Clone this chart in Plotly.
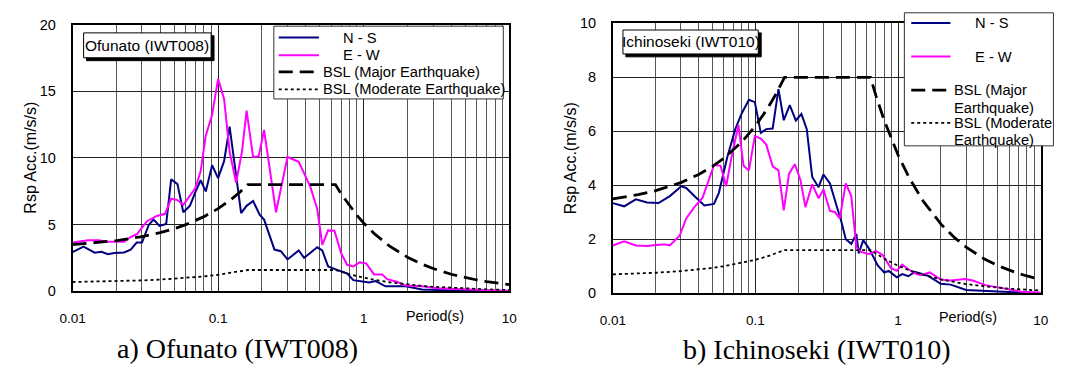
import math
import plotly.graph_objects as go

W, H = 1083, 374

# ---------------- data ----------------
# a) Ofunato (IWT008)
ofu_ns_T = [0.01, 0.0119, 0.0142, 0.0158, 0.0175, 0.0194, 0.0226, 0.0251, 0.0276, 0.030, 0.0334, 0.036,
            0.0396, 0.044, 0.0476, 0.0526, 0.0577, 0.064, 0.0697, 0.0759, 0.0823, 0.091, 0.10, 0.11,
            0.12, 0.133, 0.144, 0.157, 0.174, 0.193, 0.207, 0.244, 0.27, 0.30, 0.358, 0.39, 0.48, 0.52,
            0.57, 0.65, 0.77, 0.85, 0.97, 1.09, 1.21, 1.41, 1.94, 2.52, 4.2, 10.0]
ofu_ns_A = [2.94, 3.35, 2.9, 2.97, 2.78, 2.87, 2.92, 3.13, 3.66, 3.66, 4.98, 5.38,
            4.9, 5.05, 8.4, 8.04, 5.93, 6.41, 7.42, 8.33, 7.49, 9.45, 8.49, 9.76,
            12.34, 8.44, 5.86, 6.41, 6.77, 5.74, 5.38, 3.13, 3.01, 2.39, 3.06, 2.51, 3.3, 3.06,
            1.87, 1.63, 1.34, 0.84, 0.72, 0.67, 0.77, 0.38, 0.38, 0.14, 0.07, 0.0]

ofu_ew_T = [0.01, 0.0128, 0.015, 0.0175, 0.0226, 0.0251, 0.0278, 0.0325, 0.0379, 0.0432, 0.0476, 0.0526,
            0.0577, 0.0697, 0.0759, 0.0823, 0.091, 0.10, 0.11, 0.12, 0.133, 0.146, 0.157, 0.174, 0.19,
            0.207, 0.25, 0.30, 0.358, 0.43, 0.48, 0.52, 0.57, 0.63, 0.70, 0.77, 0.85, 0.94, 1.04, 1.18,
            1.34, 1.45, 1.69, 1.94, 2.52, 3.2, 5.4, 10.0]
ofu_ew_A = [3.66, 3.83, 3.83, 3.71, 3.71, 4.07, 4.31, 5.26, 5.65, 5.81, 6.94, 6.84,
            6.48, 7.73, 9.0, 11.67, 13.23, 15.93, 14.43, 10.48, 8.13, 10.48, 13.54, 10.07, 10.12,
            12.1, 5.93, 10.07, 9.71, 7.85, 6.17, 3.49, 4.57, 4.55, 2.87, 1.99, 1.87, 2.18, 2.1, 1.27,
            1.27, 0.91, 0.72, 0.43, 0.38, 0.24, 0.14, 0.05]

# b) Ichinoseki (IWT010)
ichi_ns_T = [0.01, 0.012, 0.0145, 0.0174, 0.0209, 0.0251, 0.0302, 0.0327, 0.0384, 0.0438, 0.0512, 0.0554,
             0.0633, 0.0722, 0.0802, 0.09, 0.099, 0.109, 0.119, 0.132, 0.145, 0.158, 0.174, 0.192,
             0.21, 0.229, 0.25, 0.277, 0.30, 0.333, 0.37, 0.40, 0.43, 0.47, 0.51, 0.53, 0.57, 0.63,
             0.72, 0.80, 0.86, 0.98, 1.07, 1.18, 1.31, 1.62, 1.99, 2.34, 3.0, 4.1, 6.5, 10.0]
ichi_ns_A = [3.34, 3.22, 3.48, 3.36, 3.34, 3.6, 3.96, 3.9, 3.54, 3.25, 3.31, 3.72,
             5.02, 6.08, 6.67, 7.17, 7.08, 5.94, 6.08, 6.1, 7.56, 6.41, 6.97, 6.4,
             6.64, 6.08, 4.31, 3.93, 4.4, 4.07, 3.25, 2.66, 2.0, 1.83, 2.2, 1.48, 1.97, 1.63,
             1.03, 0.77, 0.83, 0.59, 0.71, 0.63, 0.79, 0.65, 0.35, 0.32, 0.12, 0.08, 0.04, 0.01]

ichi_ew_T = [0.01, 0.012, 0.0145, 0.0174, 0.0209, 0.0232, 0.0251, 0.0294, 0.0327, 0.0373, 0.0426, 0.0473,
             0.0512, 0.057, 0.0623, 0.0685, 0.076, 0.0825, 0.09, 0.099, 0.109, 0.119, 0.132, 0.145,
             0.158, 0.172, 0.189, 0.207, 0.224, 0.25, 0.277, 0.30, 0.333, 0.36, 0.39, 0.43, 0.47,
             0.51, 0.55, 0.63, 0.70, 0.78, 0.89, 0.98, 1.07, 1.18, 1.31, 1.45, 1.67, 1.99, 2.34,
             2.94, 3.34, 4.1, 5.6, 7.3, 10.0]
ichi_ew_A = [1.77, 1.92, 1.77, 1.75, 1.8, 1.81, 1.77, 2.13, 2.77, 3.19, 3.54, 4.25,
             4.75, 4.72, 3.96, 5.14, 6.23, 4.72, 4.55, 5.82, 5.73, 5.51, 4.7, 4.55,
             3.07, 4.43, 4.78, 4.19, 3.19, 4.04, 3.52, 3.84, 3.05, 3.01, 2.77, 4.07, 3.6,
             1.71, 1.53, 1.45, 1.57, 1.42, 0.94, 0.83, 1.06, 0.89, 0.74, 0.67, 0.77, 0.51, 0.47,
             0.53, 0.47, 0.3, 0.18, 0.06, 0.02]

# BSL design spectra
bsl_T = [0.01, 0.015, 0.02, 0.03, 0.04, 0.05, 0.06, 0.08, 0.10, 0.12, 0.14, 0.16,
         0.64, 0.70, 0.80, 0.90, 1.0, 1.2, 1.5, 2.0, 2.5, 3.0, 4.0, 5.0, 6.0, 7.0, 8.0, 9.0, 10.0]
bsl_major = [3.5, 3.65, 3.8, 4.1, 4.4, 4.7, 5.0, 5.6, 6.2, 6.8, 7.4, 8.0,
             8.0, 7.31, 6.4, 5.69, 5.12, 4.27, 3.41, 2.56, 2.05, 1.71, 1.28, 1.02, 0.85, 0.73, 0.64, 0.57, 0.51]
bsl_moderate = [0.70, 0.73, 0.76, 0.82, 0.88, 0.94, 1.0, 1.12, 1.24, 1.36, 1.48, 1.6,
                1.6, 1.46, 1.28, 1.14, 1.02, 0.85, 0.68, 0.51, 0.41, 0.34, 0.26, 0.20, 0.17, 0.15, 0.13, 0.11, 0.10]

x_tickvals = [0.01, 0.1, 1, 10]
x_ticktext = ["0.01", "0.1", "1", "10"]
minor_vals = [m * d for d in (0.01, 0.1, 1) for m in range(2, 10)]

# ---------------- styles ----------------
NAVY = "#000080"
MAG = "#FF00FF"
SANS = "Liberation Sans, Arial, sans-serif"
SERIF = "Liberation Serif, Times New Roman, serif"
LEG = 14.7


def px(x):
    return x / W


def py(y):
    return 1 - y / H


fig = go.Figure()

panels = [
    ("x", "y", ofu_ns_T, ofu_ns_A, ofu_ew_T, ofu_ew_A),
    ("x2", "y2", ichi_ns_T, ichi_ns_A, ichi_ew_T, ichi_ew_A),
]
for xa, ya, nsT, nsA, ewT, ewA in panels:
    fig.add_trace(go.Scatter(x=nsT, y=nsA, xaxis=xa, yaxis=ya, mode="lines",
                             line=dict(color=NAVY, width=2), showlegend=False))
    fig.add_trace(go.Scatter(x=ewT, y=ewA, xaxis=xa, yaxis=ya, mode="lines",
                             line=dict(color=MAG, width=2), showlegend=False))
    fig.add_trace(go.Scatter(x=bsl_T, y=bsl_major, xaxis=xa, yaxis=ya, mode="lines",
                             line=dict(color="black", width=2.8, dash="14px,7px"), showlegend=False))
    fig.add_trace(go.Scatter(x=bsl_T, y=bsl_moderate, xaxis=xa, yaxis=ya, mode="lines",
                             line=dict(color="black", width=1.8, dash="3px,3px"), showlegend=False))


def xaxis_cfg(domain, anchor):
    return dict(type="log", domain=domain, anchor=anchor, range=[-2, 1],
                tickmode="array", tickvals=x_tickvals, ticktext=x_ticktext,
                showgrid=True, gridcolor="#222", gridwidth=1,
                minor=dict(tickmode="array", tickvals=minor_vals, showgrid=True,
                           gridcolor="#555", gridwidth=1, ticks=""),
                showline=True, linecolor="black", linewidth=1.5, mirror=True,
                ticks="", ticklabelstandoff=14,
                tickfont=dict(family=SANS, size=13.5, color="black"), zeroline=False)


def yaxis_cfg(domain, anchor, rng, dtick):
    return dict(domain=domain, anchor=anchor, range=rng, dtick=dtick, tick0=0,
                showgrid=True, gridcolor="#222", gridwidth=1,
                showline=True, linecolor="black", linewidth=1.5, mirror=True,
                ticks="", ticklabelstandoff=12,
                tickfont=dict(family=SANS, size=14.5, color="black"), zeroline=False)


fig.update_layout(
    width=W, height=H, margin=dict(l=0, r=0, t=0, b=0),
    paper_bgcolor="white", plot_bgcolor="white", showlegend=False,
    xaxis=xaxis_cfg([px(60.7), px(506)], "y"),
    yaxis=yaxis_cfg([py(296), py(17.3)], "x", [0, 20], 5),
    xaxis2=xaxis_cfg([px(611.7), px(1048)], "y2"),
    yaxis2=yaxis_cfg([py(298), py(16)], "x2", [0, 10], 2),
)

shapes = []
annots = []


def text(x, y, s, size=14, anchor="left", family=SANS, angle=0):
    annots.append(dict(xref="paper", yref="paper", x=px(x), y=py(y), text=s, showarrow=False,
                       xanchor=anchor, yanchor="middle", textangle=angle, borderpad=0,
                       font=dict(family=family, size=size, color="black")))


def rect(x0, y0, x1, y1, fill, line="black", lw=1):
    shapes.append(dict(type="rect", xref="paper", yref="paper", x0=px(x0), x1=px(x1),
                       y0=py(y1), y1=py(y0), fillcolor=fill,
                       line=dict(color=line, width=lw), layer="above"))


def hline(x0, x1, y, color, width, dash="solid"):
    shapes.append(dict(type="line", xref="paper", yref="paper", x0=px(x0), x1=px(x1),
                       y0=py(y), y1=py(y), line=dict(color=color, width=width, dash=dash),
                       layer="above"))


# station title boxes with shadow
rect(75, 29, 205, 55, "black", "black", 1)
rect(72, 26, 202, 52, "white", "black", 1)
text(137, 39, "Ofunato (IWT008)", 15.5, "center")
rect(625, 26, 763, 51, "black", "black", 1)
rect(622, 23, 760, 48, "white", "black", 1)
text(691, 35.5, "Ichinoseki (IWT010)", 15.5, "center")

# left legend
rect(266, 19, 500, 95, "white", "#333", 1)
hline(271, 312, 30.7, NAVY, 2)
text(335, 31, "N - S", LEG)
hline(271, 312, 49.3, MAG, 2)
text(335, 49.5, "E - W", LEG)
hline(271, 313, 66.7, "black", 2.8, "14px,7px")
text(315, 67, "BSL (Major Earthquake)", LEG)
hline(271, 313, 85, "black", 1.8, "3px,3px")
text(315, 85, "BSL (Moderate Earthquake)", LEG)

# right legend
rect(909, 5, 1061, 144, "white", "#333", 1)
hline(916, 956, 15.7, NAVY, 2)
text(980, 16, "N - S", LEG)
hline(916, 956, 50.7, MAG, 2)
text(980, 51, "E - W", LEG)
hline(916, 957, 85.7, "black", 2.8, "14px,7px")
text(959, 86, "BSL (Major", LEG)
text(959, 104, "Earthquake)", LEG)
hline(916, 957, 120, "black", 1.8, "3px,3px")
text(959, 120.5, "BSL (Moderate", LEG)
text(959, 138, "Earthquake)", LEG)

# y-axis titles
text(18, 156.7, "Rsp Acc.(m/s/s)", 16, "center", angle=-90)
text(568, 157, "Rsp Acc.(m/s/s)", 16, "center", angle=-90)

# "Period(s)" labels at tick row
annots.append(dict(xref="x", yref="paper", x=math.log10(3.1), y=py(321.7), text="Period(s)",
                   showarrow=False, xanchor="center", yanchor="middle",
                   font=dict(family=SANS, size=14.3, color="black")))
annots.append(dict(xref="x2", yref="paper", x=math.log10(3.1), y=py(322.5), text="Period(s)",
                   showarrow=False, xanchor="center", yanchor="middle",
                   font=dict(family=SANS, size=14.3, color="black")))

# captions
text(229, 356, "a) Ofunato (IWT008)", 28, "center", family=SERIF)
text(819, 357, "b) Ichinoseki (IWT010)", 28, "center", family=SERIF)

fig.update_layout(shapes=shapes, annotations=annots)
fig.write_html("out.html")
